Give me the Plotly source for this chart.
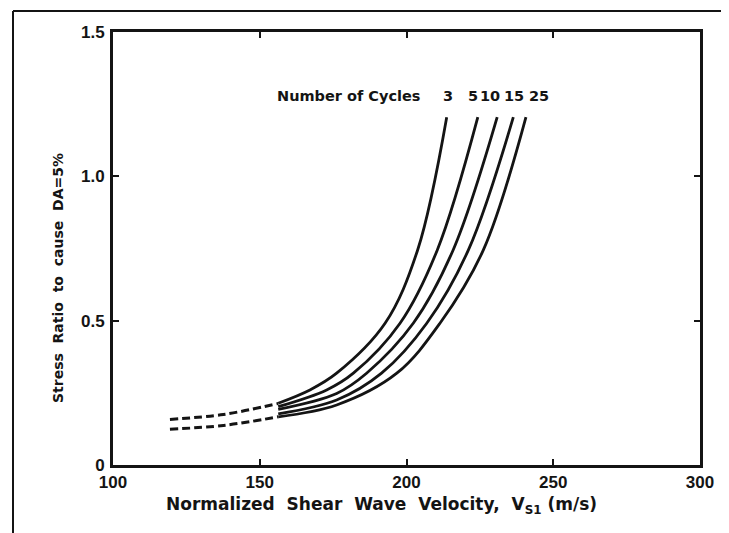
import plotly.graph_objects as go

# ---- data ----
cycles = ["3", "5", "10", "15", "25"]

c3_x = [156.3, 167.1, 176.2, 192.7, 203.8, 213.7]
c3_y = [0.214, 0.260, 0.318, 0.491, 0.745, 1.205]

c5_x = [156.3, 172.8, 181.9, 197.8, 210.5, 224.3]
c5_y = [0.202, 0.260, 0.318, 0.491, 0.745, 1.205]

c10_x = [156.3, 176.2, 186.4, 202.3, 215.9, 230.9]
c10_y = [0.193, 0.248, 0.318, 0.491, 0.745, 1.205]

c15_x = [156.3, 176.2, 191.5, 206.9, 221.1, 236.4]
c15_y = [0.177, 0.225, 0.318, 0.491, 0.745, 1.205]

c25_x = [156.3, 176.2, 196.7, 211.4, 226.2, 240.7]
c25_y = [0.167, 0.208, 0.318, 0.491, 0.745, 1.205]

dash_upper_x = [119.4, 137.6, 156.3]
dash_upper_y = [0.158, 0.175, 0.213]
dash_lower_x = [119.4, 137.6, 156.3]
dash_lower_y = [0.124, 0.137, 0.167]

label_x = [214, 222.5, 228.6, 236.6, 245]   # where cycle numbers sit
x_ticks = [100, 150, 200, 250, 300]
y_ticks = [0, 0.5, 1.0, 1.5]
y_ticklabels = ["0", "0.5", "1.0", "1.5"]

INK = "#141414"
TICKFONT = dict(family="Liberation Sans", size=17, color=INK, weight="bold")
TXTFONT = "DejaVu Sans"

# page offset (browser body margin) and figure geometry
OFF = 8
W, H = 721, 525
L, R, T, B = 105, 29, 24, 68
pw, ph = W - L - R, H - T - B


def px_to_paper(px, py):
    """screen pixel -> paper fraction"""
    return (px - OFF - L) / pw, (H - B - (py - OFF)) / ph


fig = go.Figure()
curves = [(c3_x, c3_y), (c5_x, c5_y), (c10_x, c10_y), (c15_x, c15_y), (c25_x, c25_y)]
for (xs, ys), name in zip(curves, cycles):
    fig.add_trace(go.Scatter(x=xs, y=ys, mode="lines", name=name,
                             line=dict(color=INK, width=2.8, shape="spline", smoothing=1.0),
                             showlegend=False, hoverinfo="skip"))
for xs, ys in [(dash_upper_x, dash_upper_y), (dash_lower_x, dash_lower_y)]:
    fig.add_trace(go.Scatter(x=xs, y=ys, mode="lines",
                             line=dict(color=INK, width=3, dash="8px,4px", shape="spline"),
                             showlegend=False, hoverinfo="skip"))

fig.add_annotation(text="Number of Cycles", x=205.3, y=1.278, xref="x", yref="y",
                   xanchor="right", yanchor="middle", showarrow=False,
                   font=dict(family=TXTFONT, size=14.5, color=INK, weight="bold"))
for lx, c in zip(label_x, cycles):
    fig.add_annotation(text=c, x=lx, y=1.278, xref="x", yref="y",
                       xanchor="center", yanchor="middle", showarrow=False,
                       font=dict(family=TXTFONT, size=14.5, color=INK, weight="bold"))

ax, ay = px_to_paper(381, 505)
fig.add_annotation(text="Normalized  Shear  Wave  Velocity,  V<sub>S1</sub> (m/s)",
                   x=ax, y=ay, xref="paper", yref="paper", showarrow=False,
                   xanchor="center", yanchor="middle",
                   font=dict(family=TXTFONT, size=17, color=INK, weight="bold"))
tx, ty = px_to_paper(58, 278)
fig.add_annotation(text="Stress  Ratio  to  cause  DA=5%", x=tx, y=ty, xref="paper", yref="paper",
                   textangle=-90, showarrow=False, xanchor="center", yanchor="middle",
                   font=dict(family=TXTFONT, size=14, color=INK, weight="bold"))

# outer frame lines (top and left) of the scanned figure
fx0, fy0 = px_to_paper(13, 11)
fx1, fy1 = px_to_paper(740, 545)
fig.add_shape(type="line", xref="paper", yref="paper", x0=fx0, y0=fy0, x1=fx1, y1=fy0,
              line=dict(color=INK, width=2))
fig.add_shape(type="line", xref="paper", yref="paper", x0=fx0, y0=fy0, x1=fx0, y1=fy1,
              line=dict(color=INK, width=2))

fig.update_xaxes(range=[100, 300], tickvals=x_ticks, ticks="inside", ticklen=6, tickwidth=2,
                 tickcolor=INK, showline=True, linewidth=3, linecolor=INK, mirror="ticks",
                 showgrid=False, zeroline=False, tickfont=TICKFONT)
fig.update_yaxes(range=[0, 1.5], tickvals=y_ticks, ticktext=y_ticklabels, ticks="inside",
                 ticklen=6, tickwidth=2, tickcolor=INK, showline=True, linewidth=3,
                 linecolor=INK, mirror="ticks", showgrid=False, zeroline=False,
                 ticklabelstandoff=2, tickfont=TICKFONT)

fig.update_layout(width=W, height=H, margin=dict(l=L, r=R, t=T, b=B),
                  plot_bgcolor="white", paper_bgcolor="white")

fig.write_html("out.html")
